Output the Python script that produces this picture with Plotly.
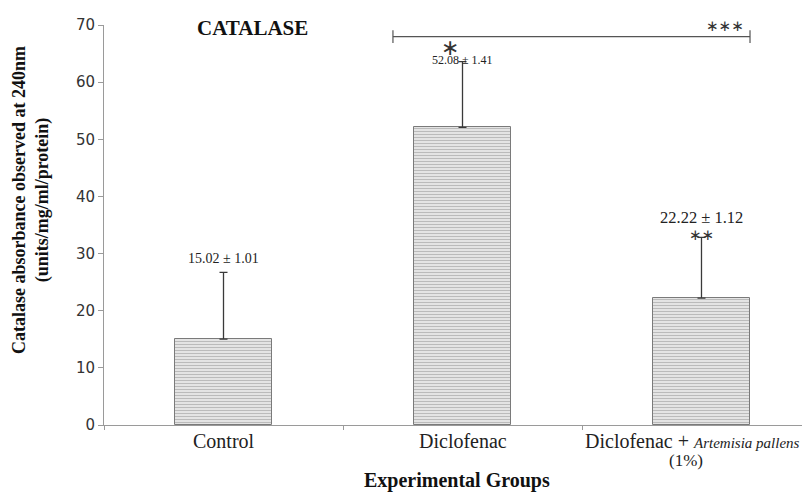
import plotly.graph_objects as go

groups = ["Control", "Diclofenac", "Diclofenac + <i>Artemisia pallens</i>"]
group_sub = ["", "", "(1%)"]
means = [15.02, 52.08, 22.22]
err_drawn = [11.7, 11.5, 10.6]
labels = ["15.02 ± 1.01", "52.08 ± 1.41", "22.22 ± 1.12"]
xpos = [0, 1, 2]

serif = "Liberation Serif"

fig = go.Figure()
fig.add_trace(go.Bar(
    x=xpos, y=means, width=0.406,
    marker=dict(
        color="#e6e6e6",
        line=dict(color="#7a7a7a", width=1),
        pattern=dict(shape="-", fgcolor="#8a8a8a", bgcolor="#ececec", size=3, solidity=0.45),
    ),
    error_y=dict(type="data", symmetric=False, array=err_drawn, arrayminus=[0, 0, 0],
                 color="#3a3a3a", thickness=1.3, width=4),
    showlegend=False,
))

# value labels and significance marks
fig.add_annotation(x=0, y=29.2, text=labels[0], showarrow=False,
                   font=dict(family=serif, size=14, color="#222"))
fig.add_annotation(x=1, y=63.9, text=labels[1], showarrow=False,
                   font=dict(family=serif, size=12, color="#222"))
fig.add_annotation(x=2, y=36.3, text=labels[2], showarrow=False,
                   font=dict(family=serif, size=16.5, color="#222"))
fig.add_annotation(x=0.948, y=66.1, text="∗", showarrow=False,
                   font=dict(family="DejaVu Sans", size=22, color="#333"))
fig.add_annotation(x=2, y=33.2, text="∗∗", showarrow=False,
                   font=dict(family="DejaVu Sans", size=15, color="#333"))

# significance bracket
bx0, bx1, by = 0.709, 2.203, 67.96
fig.add_shape(type="line", x0=bx0, x1=bx1, y0=by, y1=by, line=dict(color="#555", width=1.2))
for bx in (bx0, bx1):
    fig.add_shape(type="line", x0=bx, x1=bx, y0=by - 1.1, y1=by + 1.1, line=dict(color="#555", width=1.2))
fig.add_annotation(x=2.098, y=69.9, text="∗∗∗", showarrow=False,
                   font=dict(family="DejaVu Sans", size=15, color="#333"))

fig.add_annotation(x=0.123, y=69.5, text="<b>CATALASE</b>", showarrow=False,
                   font=dict(family=serif, size=21, color="#111"))

# category labels
for x, g, s in zip(xpos, groups, group_sub):
    dx = -8.5 if s else 0
    g_html = g.replace(
        "<i>", "<span style='font-family:serif;font-style:italic;font-size:15px'>"
    ).replace("</i>", "</span>")
    fig.add_annotation(x=x, y=0, yref="paper", yshift=-16, xshift=dx, yanchor="middle",
                       text=g_html, showarrow=False,
                       font=dict(family=serif, size=20, color="#222"))
    if s:
        fig.add_annotation(x=x, y=0, yref="paper", yshift=-35, xshift=-15, yanchor="middle",
                           text=s, showarrow=False,
                           font=dict(family=serif, size=17, color="#222"))

# axis titles
fig.add_annotation(x=0, xref="paper", xshift=-73, xanchor="center", y=0.5625, yref="paper",
                   yanchor="middle", textangle=-90,
                   text="<b>Catalase absorbance observed at 240nm<br>(units/mg/ml/protein)</b>",
                   showarrow=False, font=dict(family=serif, size=18, color="#111"))
fig.add_annotation(x=0.5, xref="paper", y=0, yref="paper", yshift=-55, yanchor="middle",
                   text="<b>Experimental Groups</b>", showarrow=False,
                   font=dict(family=serif, size=20, color="#111"))

fig.update_xaxes(
    range=[-0.5, 2.454], tickvals=xpos, showticklabels=False, automargin=False,
    showline=True, linecolor="#9a9a9a", linewidth=1, ticks="",
    minor=dict(tickmode="linear", tick0=0.5, dtick=1, ticks="outside", ticklen=4,
               tickcolor="#9a9a9a"),
)
fig.update_yaxes(
    range=[0, 70], dtick=10, showgrid=False, zeroline=False, automargin=False,
    showline=True, linecolor="#9a9a9a", linewidth=1, ticks="outside", ticklen=5, tickcolor="#9a9a9a",
    tickfont=dict(family="DejaVu Sans", size=15, color="#333"),
)
# page body adds an 8px offset, so the figure is 8px smaller on each side
fig.update_layout(
    width=802, height=484, plot_bgcolor="white", paper_bgcolor="white",
    margin=dict(l=96, r=0, t=17, b=67), bargap=0,
)
fig.write_html("out.html")
